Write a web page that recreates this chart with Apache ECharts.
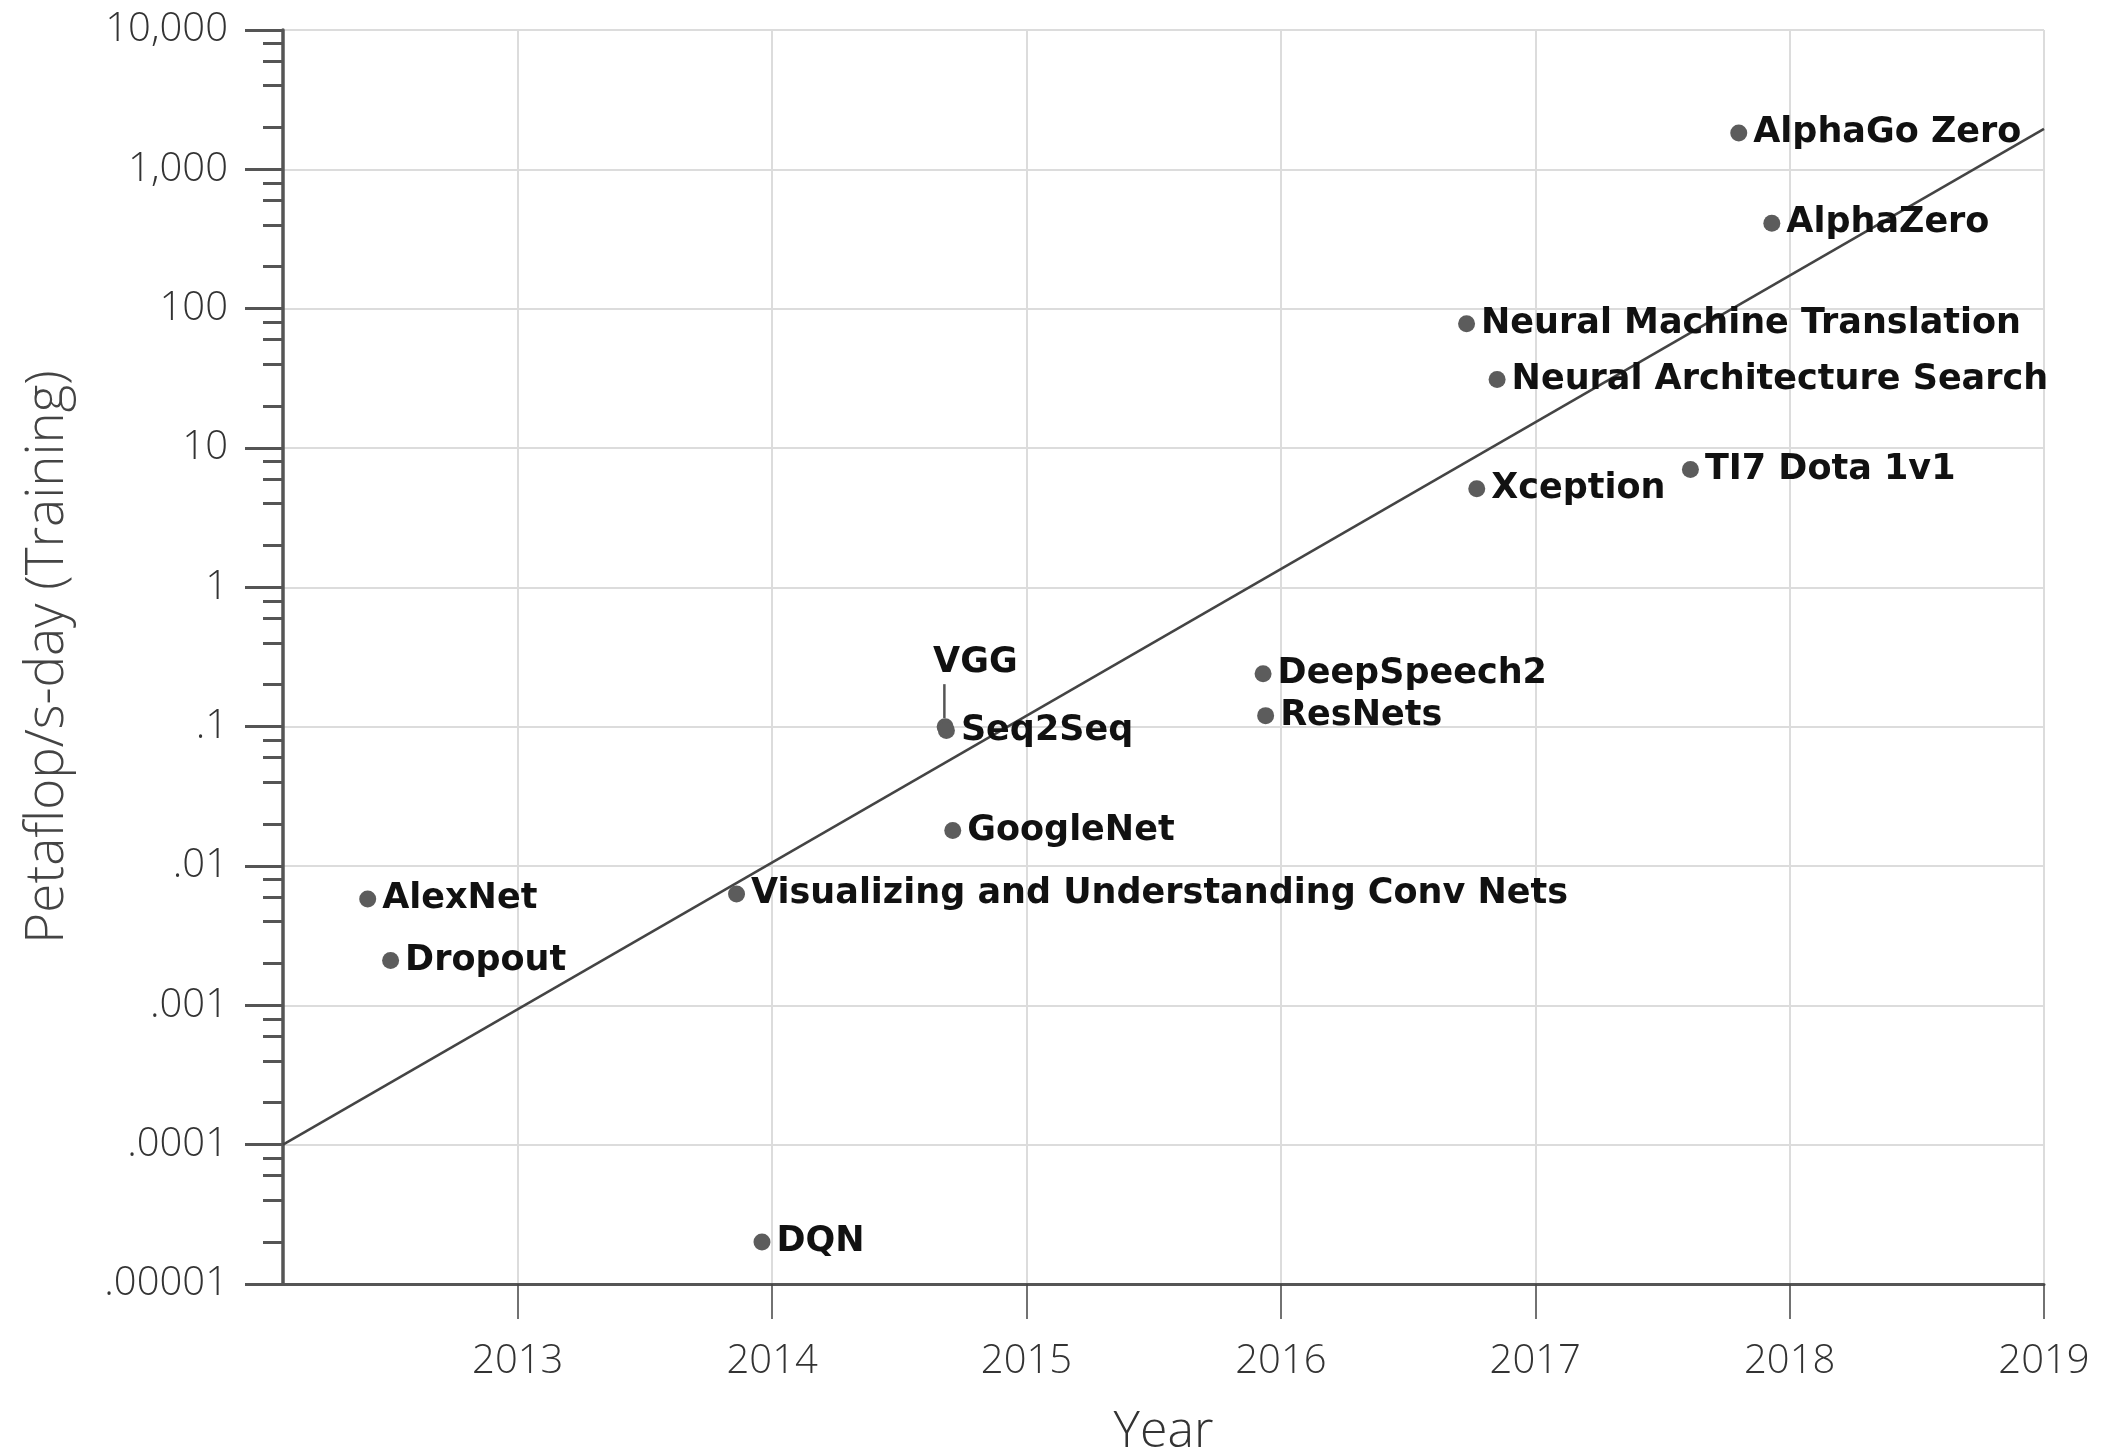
<!DOCTYPE html>
<html>
<head>
<meta charset="utf-8">
<title>AI training compute</title>
<script src="https://cdn.jsdelivr.net/npm/echarts@6/dist/echarts.min.js"></script>
<style>
  html, body { margin: 0; padding: 0; background: #ffffff; }
  #chart { width: 2104px; height: 1455px; }
</style>
</head>
<body>
<div id="chart"></div>
<script>
// Training compute of notable models (petaflop/s-days), by publication year
const modelNames = [
  'AlexNet', 'Dropout', 'Visualizing and Understanding Conv Nets', 'DQN',
  'VGG', 'Seq2Seq', 'GoogleNet', 'DeepSpeech2', 'ResNets',
  'Neural Machine Translation', 'Neural Architecture Search', 'Xception',
  'TI7 Dota 1v1', 'AlphaGo Zero', 'AlphaZero'
];
const modelYears = [
  2012.41, 2012.50, 2013.86, 2013.96,
  2014.68, 2014.685, 2014.71, 2015.93, 2015.94,
  2016.73, 2016.85, 2016.77,
  2017.61, 2017.80, 2017.93
];
const modelCompute = [
  0.0058, 0.0021, 0.0063, 0.00002,
  0.1, 0.094, 0.018, 0.24, 0.12,
  78, 31, 5.1,
  7, 1820, 410
];

// Exponential trend line endpoints
const trendYears = [2012.077, 2019];
const trendCompute = [0.0001, 1950];

// Axis ticks
const yearTicks = [2013, 2014, 2015, 2016, 2017, 2018, 2019];
const computeTickLabels = ['.00001', '.0001', '.001', '.01', '.1', '1', '10', '100', '1,000', '10,000'];
const minorMultipliers = [2, 4, 6, 8];

const minorTickValues = [];
for (let e = -5; e < 4; e++) {
  minorMultipliers.forEach(function (m) { minorTickValues.push(m * Math.pow(10, e)); });
}

const points = modelNames.map(function (name, i) {
  return { name: name, value: [modelYears[i], modelCompute[i]] };
});
const trend = trendYears.map(function (y, i) { return [y, trendCompute[i]]; });

const axisFont = { fontFamily: '"Open Sans", Roboto, sans-serif', fontWeight: 300, color: '#333' };
const pointLabelFont = { fontFamily: '"DejaVu Sans", sans-serif', fontWeight: 'bold', fontSize: 35, color: '#111' };

// VGG sits on top of Seq2Seq, so its label is lifted on a short stem
const vggIndex = modelNames.indexOf('VGG');
points[vggIndex].label = {
  show: true,
  position: 'top',
  align: 'left',
  verticalAlign: 'bottom',
  distance: 0,
  formatter: '{n|VGG}\n{g|}{s|}',
  rich: {
    n: Object.assign({}, pointLabelFont, { align: 'left', lineHeight: 42 }),
    g: { width: 10, height: 34, align: 'left' },
    s: { width: 2.5, height: 34, backgroundColor: '#555', align: 'left' }
  }
};

const chart = echarts.init(document.getElementById('chart'), null, { renderer: 'canvas' });

chart.setOption({
  animation: false,
  backgroundColor: '#ffffff',
  grid: { left: 283, right: 60, top: 30, bottom: 171, containLabel: false, outerBoundsMode: 'none' },
  xAxis: {
    type: 'value',
    min: trendYears[0],
    max: 2019,
    name: 'Year',
    nameLocation: 'middle',
    nameGap: 124,
    nameTextStyle: Object.assign({}, axisFont, { fontSize: 50, color: '#333' }),
    axisLine: { show: true, lineStyle: { color: '#555', width: 3 } },
    axisTick: { show: true, customValues: yearTicks, length: 35, lineStyle: { color: '#444', width: 1.5 } },
    axisLabel: Object.assign({ customValues: yearTicks, margin: 58, fontSize: 40, formatter: function (v) { return String(Math.round(v)); } }, axisFont),
    splitLine: { show: true, lineStyle: { color: '#dcdcdc', width: 2 } }
  },
  yAxis: [
    {
      type: 'log',
      logBase: 10,
      min: 0.00001,
      max: 10000,
      interval: 1,
      name: 'Petaflop/s-day (Training)',
      nameLocation: 'middle',
      nameGap: 209,
      nameTextStyle: Object.assign({}, axisFont, { fontSize: 53, color: '#444' }),
      axisLine: { show: true, lineStyle: { color: '#555', width: 3.5 } },
      axisTick: { show: true, length: 38, lineStyle: { color: '#555', width: 3 } },
      axisLabel: Object.assign({
        margin: 55,
        fontSize: 40,
        formatter: function (v) {
          const i = Math.round(Math.log10(v)) + 5;
          return computeTickLabels[i] || '';
        }
      }, axisFont),
      splitLine: { show: true, lineStyle: { color: '#dcdcdc', width: 2 } }
    },
    {
      // minor ticks at 2, 4, 6, 8 within each decade
      type: 'log',
      logBase: 10,
      min: 0.00001,
      max: 10000,
      position: 'left',
      axisLine: { show: false },
      axisTick: { show: true, customValues: minorTickValues, length: 20, lineStyle: { color: '#555', width: 3 } },
      axisLabel: { show: false },
      splitLine: { show: false }
    }
  ],
  series: [
    {
      type: 'line',
      data: trend,
      symbol: 'none',
      silent: true,
      z: 2,
      lineStyle: { color: '#444', width: 2.5 }
    },
    {
      type: 'scatter',
      data: points,
      symbol: 'circle',
      symbolSize: 17,
      z: 3,
      itemStyle: { color: '#5c5c5c', opacity: 1 },
      label: Object.assign({
        show: true,
        position: 'right',
        distance: 6,
        formatter: '{b}'
      }, pointLabelFont),
      labelLayout: function (params) {
        // nudge the lifted VGG label so its stem lands on the dot
        if (params.dataIndex === vggIndex) {
          return { dx: -12, hideOverlap: false };
        }
        return { hideOverlap: false };
      }
    }
  ]
});
</script>
</body>
</html>
